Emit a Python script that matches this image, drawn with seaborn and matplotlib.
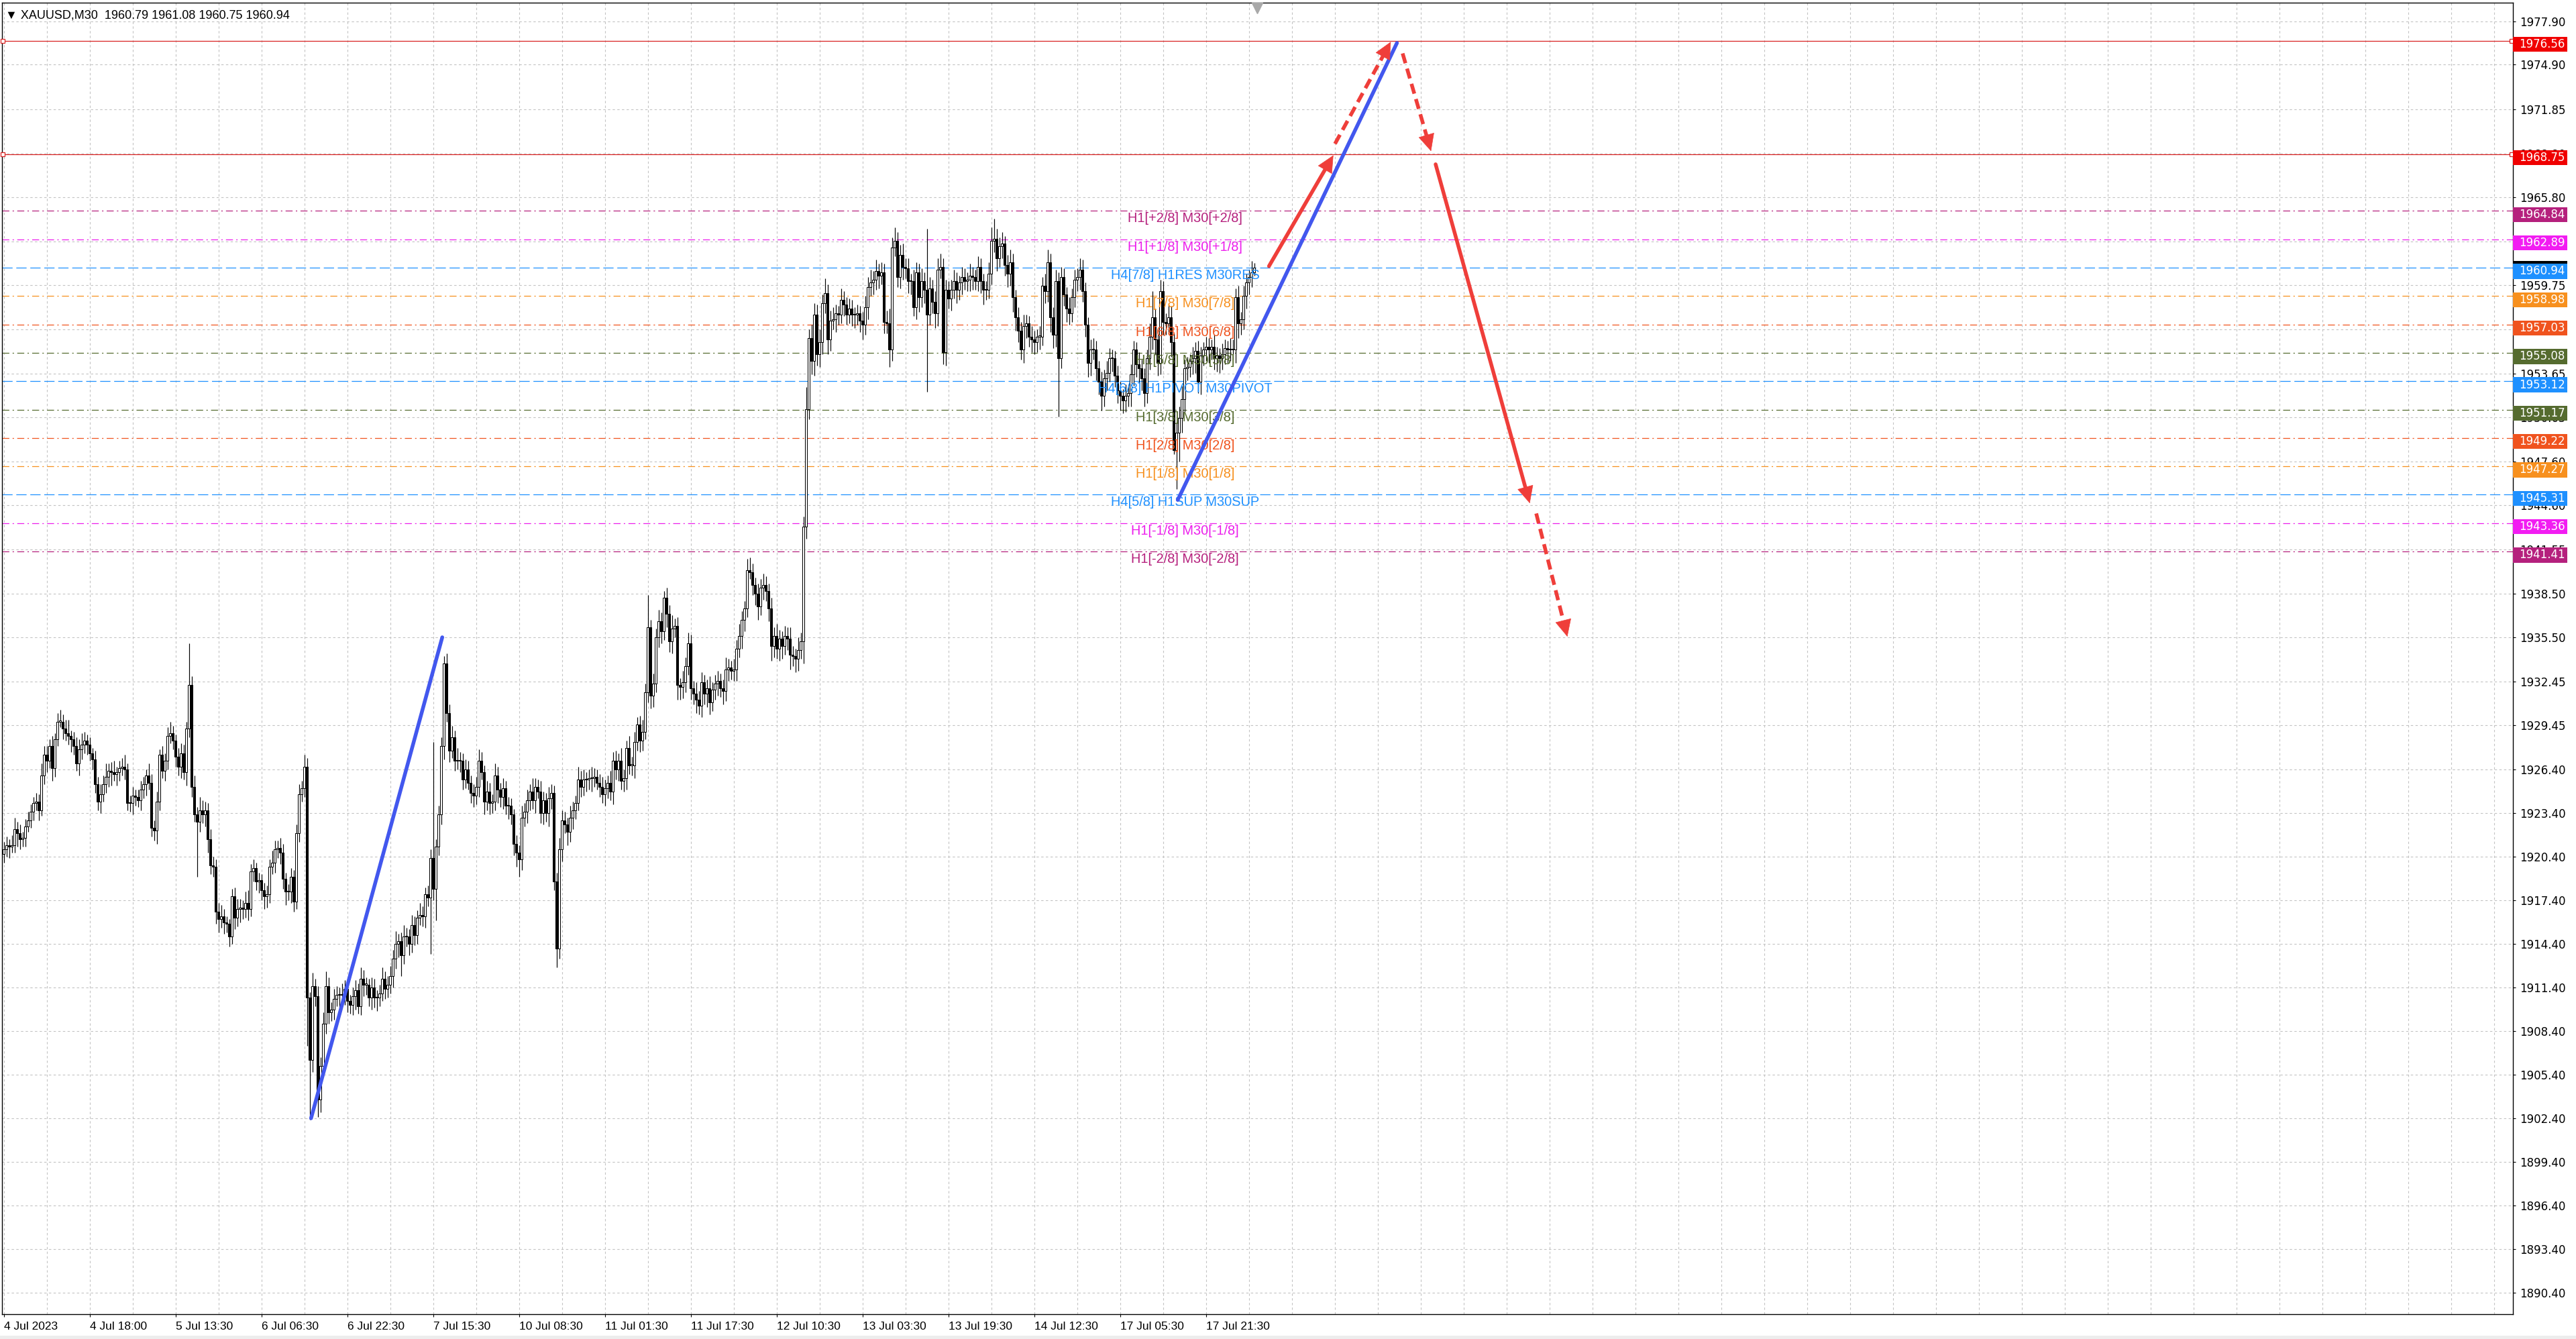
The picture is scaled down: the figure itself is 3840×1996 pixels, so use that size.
import matplotlib
matplotlib.use("Agg")
import numpy as np
import pandas as pd
import matplotlib.pyplot as plt
import matplotlib.transforms as mtrans
from matplotlib.patches import Rectangle
from matplotlib import font_manager
import seaborn as sns

######################### chart values ############################
title_text = "\u25bc XAUUSD,M30  1960.79 1961.08 1960.75 1960.94"

first_open = 1920.6
# M30 closes, one per bar
close = [
    1920.9, 1921.2, 1921.1, 1921.2, 1922.3, 1922.0, 1921.6, 1921.7, 1922.5, 1922.9, 1923.5, 1924.1, 1924.2, 1923.6, 1926.0, 1927.4,
    1927.0, 1928.0, 1926.5, 1928.5, 1929.7, 1929.7, 1929.2, 1928.9, 1928.7, 1928.5, 1928.0, 1926.8, 1927.8, 1928.1, 1928.4, 1928.1,
    1927.5, 1927.1, 1925.4, 1924.2, 1924.7, 1925.4, 1925.9, 1926.3, 1926.2, 1926.1, 1926.2, 1926.5, 1926.6, 1926.4, 1924.1, 1924.1,
    1924.6, 1924.5, 1924.3, 1925.0, 1925.4, 1926.0, 1925.5, 1922.4, 1922.2, 1924.2, 1927.4, 1926.3, 1927.0, 1928.7, 1928.9, 1928.4,
    1927.3, 1926.6, 1927.5, 1926.2, 1929.2, 1932.2, 1925.2, 1923.3, 1922.8, 1923.6, 1923.3, 1923.6, 1921.6, 1919.8, 1919.7, 1916.6,
    1916.1, 1916.3, 1915.9, 1915.8, 1914.9, 1917.7, 1916.2, 1916.8, 1916.9, 1916.8, 1917.2, 1916.8, 1919.4, 1919.6, 1918.7, 1918.8,
    1918.1, 1917.7, 1917.8, 1919.7, 1920.0, 1920.9, 1921.0, 1920.7, 1918.9, 1918.0, 1918.0, 1919.0, 1917.3, 1922.0, 1924.7, 1925.1,
    1926.6, 1910.7, 1906.4, 1911.5, 1910.8, 1903.7, 1906.0, 1908.9, 1911.5, 1909.7, 1909.9, 1910.6, 1910.9, 1910.9, 1910.9, 1911.3,
    1910.5, 1910.2, 1910.8, 1911.2, 1910.1, 1912.0, 1911.6, 1911.6, 1910.7, 1911.4, 1910.7, 1910.7, 1911.0, 1912.0, 1911.3, 1911.6,
    1912.2, 1913.4, 1914.4, 1914.6, 1913.6, 1914.9, 1914.9, 1914.4, 1915.7, 1915.0, 1916.2, 1916.4, 1916.3, 1917.8, 1917.6, 1920.3,
    1918.2, 1921.1, 1923.3, 1928.0, 1933.7, 1930.3, 1927.7, 1928.6, 1927.0, 1927.0, 1927.0, 1925.7, 1926.4, 1925.5, 1924.8, 1924.6,
    1925.2, 1927.0, 1926.2, 1924.2, 1924.9, 1924.1, 1924.2, 1926.0, 1925.0, 1924.5, 1925.1, 1923.9, 1923.9, 1923.3, 1921.3, 1920.7,
    1920.2, 1923.1, 1923.5, 1924.3, 1924.9, 1924.3, 1925.2, 1924.9, 1923.4, 1924.3, 1923.4, 1924.4, 1924.8, 1918.7, 1914.1, 1920.9,
    1922.9, 1922.6, 1922.1, 1923.1, 1923.6, 1924.1, 1925.7, 1925.2, 1925.7, 1925.7, 1925.8, 1925.8, 1925.9, 1925.5, 1925.2, 1924.7,
    1925.1, 1925.5, 1924.9, 1927.0, 1926.4, 1927.0, 1925.6, 1925.8, 1927.9, 1926.7, 1926.7, 1928.3, 1929.5, 1928.4, 1929.0, 1931.7,
    1936.2, 1931.5, 1932.3, 1935.5, 1936.6, 1935.9, 1938.2, 1937.1, 1935.2, 1936.1, 1936.3, 1932.2, 1932.1, 1932.4, 1933.5, 1935.1,
    1932.0, 1931.6, 1931.2, 1930.8, 1932.4, 1931.6, 1932.0, 1931.0, 1931.9, 1932.3, 1932.5, 1932.0, 1931.8, 1933.3, 1933.4, 1933.2,
    1933.3, 1934.7, 1935.6, 1936.7, 1937.5, 1940.1, 1940.0, 1939.1, 1938.5, 1937.6, 1938.9, 1939.1, 1938.7, 1937.5, 1934.9, 1935.6,
    1934.7, 1935.4, 1934.9, 1935.6, 1935.4, 1934.3, 1934.2, 1934.0, 1934.6, 1935.2, 1943.1, 1951.2, 1956.1, 1954.5, 1957.7, 1955.0,
    1955.8, 1958.5, 1959.2, 1956.0, 1957.3, 1957.4, 1957.8, 1957.7, 1958.7, 1958.4, 1957.7, 1958.1, 1957.7, 1957.7, 1957.8, 1957.3,
    1957.0, 1958.2, 1959.6, 1959.9, 1960.1, 1960.7, 1960.4, 1960.6, 1957.2, 1957.1, 1955.3, 1962.3, 1962.8, 1960.3, 1961.8, 1961.0,
    1960.9, 1960.0, 1960.0, 1958.2, 1960.6, 1958.9, 1960.0, 1959.4, 1957.7, 1959.5, 1958.6, 1957.8, 1960.8, 1961.0, 1955.1, 1959.4,
    1958.8, 1959.4, 1960.0, 1959.4, 1959.9, 1960.3, 1960.0, 1960.1, 1960.4, 1960.3, 1960.0, 1961.0, 1960.0, 1959.4, 1959.4, 1960.5,
    1962.8, 1962.9, 1961.6, 1962.4, 1962.6, 1961.1, 1960.5, 1961.3, 1958.9, 1957.5, 1956.6, 1955.3, 1956.9, 1957.1, 1956.2, 1956.0,
    1955.8, 1956.2, 1956.2, 1959.7, 1959.3, 1961.3, 1957.5, 1956.3, 1960.0, 1954.7, 1960.3, 1959.1, 1958.1, 1957.8, 1958.9, 1960.1,
    1960.3, 1960.8, 1959.3, 1957.0, 1954.4, 1955.3, 1955.3, 1954.0, 1953.1, 1952.1, 1953.3, 1953.7, 1954.7, 1954.7, 1953.5, 1952.5,
    1952.1, 1951.8, 1952.1, 1952.3, 1953.6, 1955.3, 1954.3, 1954.0, 1953.3, 1952.3, 1954.7, 1956.2, 1957.5, 1956.0, 1954.4, 1959.3,
    1957.2, 1957.1, 1957.5, 1955.8, 1948.4, 1949.6, 1950.6, 1951.9, 1954.0, 1954.1, 1954.5, 1954.7, 1955.2, 1953.1, 1954.9, 1955.3,
    1955.5, 1955.3, 1955.5, 1954.7, 1954.9, 1954.7, 1955.0, 1955.4, 1955.3, 1955.3, 1955.3, 1958.9, 1957.1, 1957.4, 1959.0, 1959.9,
    1960.3, 1960.6, 1960.94,
]
# upper / lower shadow length beyond the body, in tenths of a dollar
hi_wick = [
    5, 6, 4, 7, 8, 5, 6, 4, 5, 6, 5, 4, 6, 5, 8, 6,
    6, 5, 7, 4, 6, 8, 5, 6, 9, 4, 5, 6, 7, 8, 6, 4,
    5, 4, 6, 5, 7, 6, 9, 5, 6, 8, 4, 5, 6, 8, 4, 5,
    6, 4, 5, 6, 5, 4, 8, 6, 5, 7, 4, 6, 5, 6, 8, 5,
    4, 6, 7, 6, 5, 29, 6, 8, 5, 9, 7, 6, 5, 7, 6, 5,
    6, 8, 5, 4, 3, 5, 6, 7, 6, 5, 8, 9, 5, 6, 4, 5,
    4, 5, 6, 5, 8, 6, 5, 7, 6, 4, 5, 6, 5, 6, 7, 5,
    8, 6, 4, 9, 5, 7, 6, 8, 10, 6, 5, 7, 6, 5, 8, 6,
    5, 4, 6, 7, 5, 8, 6, 5, 4, 7, 6, 5, 6, 8, 5, 6,
    7, 6, 9, 5, 6, 8, 6, 5, 7, 6, 5, 8, 6, 5, 6, 6,
    80, 5, 6, 6, 5, 7, 6, 8, 5, 9, 6, 5, 7, 6, 5, 6,
    7, 8, 6, 5, 7, 6, 5, 8, 6, 5, 7, 5, 6, 5, 4, 6,
    5, 8, 6, 7, 5, 9, 6, 5, 7, 6, 5, 8, 6, 5, 6, 8,
    7, 6, 5, 8, 6, 5, 9, 6, 7, 5, 6, 8, 6, 5, 6, 7,
    6, 5, 8, 6, 7, 5, 9, 6, 5, 8, 6, 7, 5, 6, 8, 6,
    22, 5, 7, 6, 8, 6, 5, 7, 6, 9, 5, 6, 5, 8, 6, 7,
    6, 5, 8, 6, 7, 5, 6, 8, 5, 6, 7, 5, 6, 8, 6, 5,
    7, 6, 8, 6, 5, 8, 9, 6, 5, 7, 6, 8, 6, 5, 7, 6,
    8, 6, 5, 7, 6, 8, 6, 5, 9, 6, 7, 15, 6, 9, 8, 7,
    9, 6, 10, 6, 7, 8, 6, 5, 8, 6, 5, 7, 6, 5, 6, 5,
    6, 8, 7, 9, 6, 8, 5, 7, 6, 8, 10, 7, 9, 6, 7, 8,
    6, 7, 5, 8, 7, 6, 9, 6, 42, 8, 6, 7, 8, 9, 6, 7,
    6, 7, 8, 6, 5, 7, 6, 5, 8, 6, 5, 7, 6, 5, 6, 8,
    9, 14, 7, 6, 8, 5, 7, 9, 6, 5, 7, 6, 8, 6, 5, 7,
    6, 5, 7, 6, 8, 9, 6, 7, 8, 6, 7, 6, 5, 8, 6, 7,
    6, 8, 7, 6, 5, 7, 8, 6, 5, 7, 6, 8, 7, 6, 5, 7,
    6, 5, 8, 6, 7, 6, 5, 8, 6, 7, 6, 9, 18, 6, 7, 8,
    7, 6, 9, 8, 6, 7, 8, 9, 6, 7, 5, 8, 6, 7, 6, 5,
    7, 6, 5, 8, 6, 5, 7, 6, 5, 8, 7, 6, 8, 5, 7, 6,
    5, 8, 3,
]
lo_wick = [
    6, 5, 8, 4, 5, 9, 7, 5, 6, 4, 5, 6, 5, 7, 4, 6,
    8, 5, 9, 6, 5, 4, 7, 5, 6, 9, 6, 5, 8, 7, 6, 7,
    5, 7, 6, 6, 8, 5, 6, 7, 9, 5, 8, 6, 5, 7, 5, 6,
    8, 6, 5, 7, 6, 8, 5, 6, 7, 9, 6, 5, 7, 6, 5, 6,
    7, 6, 8, 5, 9, 6, 7, 5, 38, 7, 6, 8, 9, 6, 7, 8,
    9, 6, 8, 6, 7, 5, 8, 6, 9, 7, 6, 8, 5, 7, 6, 8,
    7, 9, 8, 6, 5, 7, 6, 8, 7, 9, 6, 8, 7, 5, 6, 5,
    6, 33, 41, 8, 7, 12, 9, 6, 7, 8, 6, 7, 5, 9, 6, 7,
    8, 6, 7, 9, 5, 6, 8, 7, 6, 8, 7, 9, 6, 5, 7, 6,
    6, 8, 7, 9, 14, 6, 7, 8, 6, 7, 6, 5, 7, 8, 6, 39,
    8, 22, 6, 7, 9, 6, 8, 5, 7, 6, 8, 7, 6, 5, 7, 8,
    6, 7, 5, 9, 6, 8, 7, 6, 9, 7, 8, 6, 9, 7, 8, 10,
    12, 7, 6, 8, 7, 6, 9, 5, 7, 8, 6, 9, 7, 6, 13, 7,
    8, 6, 9, 7, 8, 6, 5, 7, 6, 8, 7, 9, 6, 5, 7, 6,
    8, 7, 6, 9, 7, 8, 6, 7, 8, 6, 7, 9, 6, 8, 7, 5,
    7, 9, 8, 6, 7, 8, 6, 9, 7, 8, 6, 10, 9, 8, 7, 6,
    8, 7, 9, 6, 8, 7, 9, 8, 6, 7, 8, 6, 9, 7, 8, 6,
    7, 8, 6, 9, 8, 6, 5, 7, 8, 9, 6, 8, 7, 9, 10, 8,
    7, 8, 9, 6, 8, 10, 7, 9, 8, 6, 15, 8, 7, 9, 10, 8,
    9, 8, 7, 10, 8, 6, 9, 7, 6, 8, 7, 6, 8, 9, 7, 8,
    10, 7, 8, 6, 8, 7, 9, 6, 8, 7, 12, 8, 6, 7, 8, 9,
    7, 8, 9, 6, 8, 10, 7, 9, 53, 7, 8, 10, 9, 6, 8, 9,
    7, 8, 6, 9, 7, 8, 6, 7, 8, 9, 6, 7, 8, 10, 7, 6,
    7, 8, 9, 6, 8, 7, 9, 8, 10, 9, 8, 7, 9, 8, 7, 9,
    8, 7, 9, 6, 8, 7, 10, 9, 8, 40, 7, 8, 9, 8, 6, 7,
    8, 9, 7, 8, 10, 9, 7, 8, 9, 10, 7, 8, 6, 9, 8, 9,
    10, 9, 8, 7, 9, 8, 9, 10, 8, 9, 7, 8, 9, 10, 9, 8,
    9, 8, 7, 10, 3, 27, 20, 10, 9, 8, 7, 9, 10, 8, 9, 7,
    8, 9, 7, 8, 9, 10, 8, 7, 9, 8, 7, 9, 10, 8, 7, 9,
    8, 7, 2,
]

x_tick_bars = [0, 32, 64, 96, 128, 160, 192, 224, 256, 288, 320, 352, 384, 416, 448]
x_tick_labels = ["4 Jul 2023", "4 Jul 18:00", "5 Jul 13:30", "6 Jul 06:30", "6 Jul 22:30",
                 "7 Jul 15:30", "10 Jul 08:30", "11 Jul 01:30", "11 Jul 17:30", "12 Jul 10:30",
                 "13 Jul 03:30", "13 Jul 19:30", "14 Jul 12:30", "17 Jul 05:30", "17 Jul 21:30"]
y_tick_labels = ["1977.90", "1974.90", "1971.85", "1968.80", "1965.80", "1962.75", "1959.75",
                 "1956.70", "1953.65", "1950.65", "1947.60", "1944.60", "1941.55", "1938.50",
                 "1935.50", "1932.45", "1929.45", "1926.40", "1923.40", "1920.40", "1917.40",
                 "1914.40", "1911.40", "1908.40", "1905.40", "1902.40", "1899.40", "1896.40",
                 "1893.40", "1890.40"]

# Murrey math levels
level_price = [1964.84, 1962.89, 1960.94, 1958.98, 1957.03, 1955.08, 1953.12,
               1951.17, 1949.22, 1947.27, 1945.31, 1943.36, 1941.41]
level_name = ["H1[+2/8] M30[+2/8]", "H1[+1/8] M30[+1/8]", "H4[7/8] H1RES M30RES",
              "H1[7/8] M30[7/8]", "H1[6/8] M30[6/8]", "H1[5/8] M30[5/8]",
              "H4[6/8] H1PIVOT M30PIVOT", "H1[3/8] M30[3/8]", "H1[2/8] M30[2/8]",
              "H1[1/8] M30[1/8]", "H4[5/8] H1SUP M30SUP", "H1[-1/8] M30[-1/8]",
              "H1[-2/8] M30[-2/8]"]
level_color = ["#B5207D", "#EC1EEC", "#1E90FF", "#F7901E", "#F0531E", "#556B2F", "#1E90FF",
               "#556B2F", "#F0531E", "#F7901E", "#1E90FF", "#EC1EEC", "#B5207D"]
level_is_h4 = [False, False, True, False, False, False, True, False, False, False, True, False, False]

red_level = [1976.56, 1968.75]

# hand drawn trend lines (bar index, price)
trend_x = [[114.5, 163.4], [437.5, 519.2]]
trend_y = [[1902.4, 1935.5], [1944.95, 1976.4]]

# projection arrows
arrow_x0 = [471.5, 496.1, 521.3, 533.6, 571.1]
arrow_y0 = [1961.04, 1969.46, 1975.68, 1968.05, 1944.02]
arrow_x1 = [495.5, 516.9, 531.9, 568.7, 582.7]
arrow_y1 = [1968.67, 1976.48, 1968.95, 1944.72, 1935.54]
arrow_dashed = [False, True, True, False, True]

last_bar = 467

######################### drawing ############################
sns.set_style("white")
installed = {f.name for f in font_manager.fontManager.ttflist}
arial = ["Liberation Sans", "DejaVu Sans"] if "Liberation Sans" in installed else ["DejaVu Sans"]
plt.rcParams["font.family"] = ["DejaVu Sans"]
plt.rcParams["lines.scale_dashes"] = False

W, H = 3840, 1996
fig = plt.figure(figsize=(W / 100, H / 100), dpi=100)
fig.patch.set_facecolor("white")
ax = fig.add_axes([3 / W, 37 / H, 3743 / W, 1955 / H])
ax.set_facecolor("white")
ax.set_xlim(-0.675, 935.1)
ax.set_ylim(1888.92, 1979.17)

# grid
grid_kw = dict(color="#C3C3C3", lw=0.8, ls=(0, (2.5, 2.5)), zorder=1)
for v in y_tick_labels:
    ax.axhline(float(v), **grid_kw)
for gx in range(0, 936, 16):
    ax.axvline(gx, **grid_kw)

# candles
n = min(len(close), len(hi_wick), len(lo_wick))
df = pd.DataFrame({"bar": np.arange(n), "close": close[:n]})
df["open"] = [first_open] + close[:n - 1]
df["top"] = df[["open", "close"]].max(axis=1)
df["bot"] = df[["open", "close"]].min(axis=1)
df["high"] = df["top"] + np.array(hi_wick[:n]) / 10.0
df["low"] = df["bot"] - np.array(lo_wick[:n]) / 10.0
df["body"] = (df["top"] - df["bot"]).clip(lower=0.06)
bull = df["close"] >= df["open"]

ax.vlines(df["bar"], df["low"], df["high"], color="black", lw=0.85, zorder=3)
ax.bar(df.loc[bull, "bar"], df.loc[bull, "body"], bottom=df.loc[bull, "bot"], width=0.6,
       color="white", edgecolor="black", lw=0.75, zorder=4)
ax.bar(df.loc[~bull, "bar"], df.loc[~bull, "body"], bottom=df.loc[~bull, "bot"], width=0.6,
       color="black", edgecolor="black", lw=0.75, zorder=4)

# Murrey lines + captions
for p, name, c, h4 in zip(level_price, level_name, level_color, level_is_h4):
    dash = (0, (11, 4)) if h4 else (0, (7.5, 3.5, 1.5, 3.5))
    ax.axhline(p, color=c, lw=0.9, ls=dash, zorder=2)
    ax.text(440.2, p - 0.53, name, color=c, ha="center", va="center",
            fontsize=14.4, family=arial, zorder=6)

for p in red_level:
    ax.axhline(p, color="#D92222", lw=0.9, zorder=2)
    ax.plot([-0.3, 934.6], [p, p], ls="none", marker="s", ms=4, mfc="white",
            mec="#D92222", mew=0.9, clip_on=False, zorder=7)

# blue trend lines
for tx, ty in zip(trend_x, trend_y):
    sns.lineplot(x=tx, y=ty, ax=ax, color="#4257EE", lw=4.0, sort=False,
                 estimator=None, solid_capstyle="round", zorder=8)

# red arrows
ppx = ax.bbox.width / (935.1 + 0.675)
ppy = ax.bbox.height / (1979.17 - 1888.92)
red = "#EF3E3A"
for x0, y0, x1, y1, dashed in zip(arrow_x0, arrow_y0, arrow_x1, arrow_y1, arrow_dashed):
    L = np.hypot((x1 - x0) * ppx, (y1 - y0) * ppy)
    f = 1 - 22.0 / L
    xb, yb = x0 + (x1 - x0) * f, y0 + (y1 - y0) * f
    ax.plot([x0, xb], [y0, yb], color=red, lw=4.0,
            ls=(0, (11, 6)) if dashed else "-", solid_capstyle="round",
            dash_capstyle="butt", zorder=9)
    ax.annotate("", xy=(x1, y1), xytext=(xb, yb),
                arrowprops=dict(arrowstyle="-|>,head_length=0.75,head_width=0.36",
                                mutation_scale=23, color=red, lw=0.5,
                                shrinkA=0, shrinkB=0), zorder=9)

# chart shift marker
ax.plot([last_bar], [1978.78], marker="v", ms=11, color="#A9A9A9", clip_on=False, zorder=12)

# axes, ticks
for s in ax.spines.values():
    s.set_color("black")
    s.set_linewidth(1.0)
ax.yaxis.tick_right()
ax.set_yticks([float(v) for v in y_tick_labels])
ax.set_yticklabels(y_tick_labels)
ax.tick_params(axis="y", direction="out", length=3, width=0.8, pad=4, labelsize=12,
               colors="black", left=False, right=True)
ax.set_xticks(x_tick_bars)
ax.set_xticklabels(x_tick_labels, ha="left")
ax.tick_params(axis="x", direction="out", length=3, width=0.8, pad=5, labelsize=12.5,
               colors="black", bottom=True)
for lbl in ax.get_xticklabels():
    lbl.set_fontfamily(arial)
ax.set_xlabel("")
ax.set_ylabel("")
ax.legend_ = None

# coloured price tags on the price scale (sitting just under their line)
tr = mtrans.blended_transform_factory(ax.transAxes, ax.transData)
box_x0 = 3746.5 / 3743 - 3 / 3743
box_w = 80 / 3743
box_h = 1.04
tag_drop = 0.25
tags = [(p, "#F00000") for p in red_level]
tags += list(zip(level_price, [c if c != "#EC1EEC" else "#F21CF2" for c in level_color]))
tags.insert(4, (1960.94 + 0.17, "black"))
for p, c in tags:
    ax.add_patch(Rectangle((box_x0, p - tag_drop - box_h / 2), box_w, box_h, transform=tr,
                           facecolor=c, edgecolor="none", clip_on=False, zorder=20))
    if c != "black":
        ax.text((3755 - 3) / 3743, p - tag_drop, f"{p:.2f}", transform=tr, color="white",
                fontsize=12, ha="left", va="center", clip_on=False, zorder=21)

fig.text(8 / W, 1 - 23 / H, title_text, fontsize=13, family=arial,
         ha="left", va="center", color="black")
fig.patches.append(Rectangle((0, 0), 1, 5 / H, transform=fig.transFigure,
                             facecolor="#EDEDED", edgecolor="none"))

fig.savefig("out.png", dpi=100, facecolor="white")
